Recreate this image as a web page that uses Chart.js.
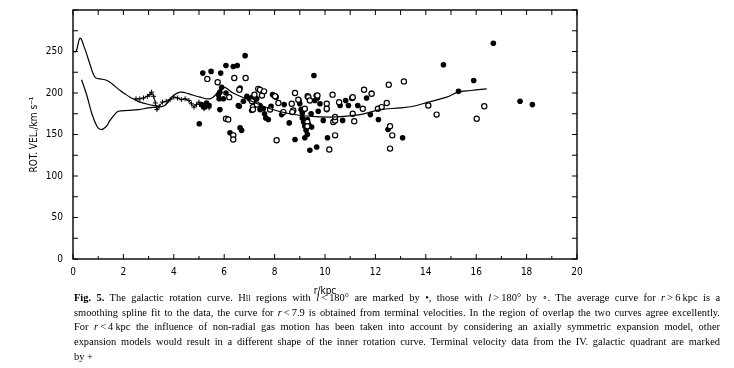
<!DOCTYPE html>
<html>
<head>
<meta charset="utf-8">
<script src="https://cdn.jsdelivr.net/npm/chart.js@4"></script>
<style>
body { margin: 0; background: #fff; }
#wrap { position: relative; width: 734px; height: 368px; }
#myChart { position: absolute; left: 0; top: 0; }
#cap { position: absolute; left: 74px; top: 290px; width: 706px; font: 11.4px "Liberation Serif", "DejaVu Serif", serif;
  line-height: 14.7px; color: #000; transform: scaleX(0.915); transform-origin: 0 0; }
#cap div { text-align: justify; text-align-last: justify; white-space: nowrap; }
#cap div.last { text-align-last: left; }
.sc { font-variant: small-caps; }
</style>
</head>
<body>
<div id="wrap">
<canvas id="myChart" width="734" height="300"></canvas>
<div id="cap">
<div><b>Fig. 5.</b> The galactic rotation curve. H<span class="sc">ii</span> regions with <i>l</i>&thinsp;&lt;&thinsp;180° are marked by •, those with <i>l</i>&thinsp;&gt;&thinsp;180° by ∘. The average curve for <i>r</i>&thinsp;&gt;&thinsp;6&thinsp;kpc is a</div>
<div>smoothing spline fit to the data, the curve for <i>r</i>&thinsp;&lt;&thinsp;7.9 is obtained from terminal velocities. In the region of overlap the two curves agree excellently.</div>
<div>For <i>r</i>&thinsp;&lt;&thinsp;4&thinsp;kpc the influence of non-radial gas motion has been taken into account by considering an axially symmetric expansion model, other</div>
<div>expansion models would result in a different shape of the inner rotation curve. Terminal velocity data from the IV. galactic quadrant are marked</div>
<div class="last">by +</div>
</div>
</div>
<script>
// H II regions with l < 180 (filled)
const filledR = [5.01, 5.15, 5.1, 5.2, 5.3, 5.4, 5.48, 5.77, 5.8, 5.83, 5.86, 5.83, 5.9, 5.97, 6.07, 6.07, 6.23, 6.36, 6.36, 6.52,
  6.56, 6.6, 6.63, 6.63, 6.69, 6.76, 6.83, 6.9, 7.0, 7.09, 7.12, 7.2, 7.29, 7.42, 7.42, 7.55, 7.6, 7.65, 7.75, 7.86,
  7.92, 7.99, 8.06, 8.28, 8.38, 8.58, 8.81, 8.97, 9.0, 9.05, 9.1, 9.1, 9.15, 9.2, 9.25, 9.3, 9.2, 9.3, 9.35, 9.4,
  9.45, 9.47, 9.56, 9.6, 9.65, 9.7, 9.67, 9.73, 9.8, 9.93, 10.07, 10.1, 10.6, 10.7, 10.82, 10.93, 11.3, 11.65, 11.8, 11.85,
  12.12, 12.5, 13.08, 14.7, 15.3, 15.9, 16.68, 17.74, 18.23];
const filledV = [163, 224, 186, 183, 188, 185, 226, 198, 193, 201, 224, 180, 207, 193, 233, 200, 152, 149, 232, 233,
  185, 184, 206, 158, 155, 190, 245, 196, 193, 179, 195, 192, 193, 180, 185, 181, 175, 170, 168, 184,
  198, 197, 195, 174, 186, 164, 144, 191, 187, 180, 176, 170, 165, 160, 155, 150, 146, 168, 162, 131,
  175, 159, 221, 191, 197, 194, 135, 178, 187, 167, 180, 146, 185, 167, 191, 185, 185, 194, 174, 200,
  168, 156, 146, 234, 202, 215, 260, 190, 186];

// H II regions with l > 180 (open)
const openR = [5.33, 5.74, 6.07, 6.16, 6.2, 6.36, 6.36, 6.4, 6.6, 6.85, 7.1, 7.14, 7.14, 7.2, 7.3, 7.35, 7.42, 7.5, 7.58, 7.82,
  8.02, 8.08, 8.15, 8.35, 8.68, 8.74, 8.7, 8.81, 8.94, 9.2, 9.31, 9.34, 9.4, 9.3, 9.3, 9.7, 10.07, 10.07, 10.17, 10.3,
  10.33, 10.4, 10.4, 10.4, 10.56, 11.08, 11.1, 11.1, 11.16, 11.5, 11.55, 11.85, 12.1, 12.25, 12.45, 12.53, 12.58, 12.67, 12.58, 13.13,
  14.1, 14.43, 16.02, 16.32];
const openV = [217, 213, 169, 168, 195, 149, 144, 218, 204, 218, 190, 183, 180, 198, 186, 205, 204, 197, 202, 180,
  196, 143, 188, 177, 187, 179, 177, 200, 192, 181, 196, 195, 191, 165, 160, 197, 187, 181, 132, 198,
  165, 167, 171, 149, 189, 194, 195, 175, 166, 181, 204, 199, 181, 183, 188, 210, 160, 149, 133, 214,
  185, 174, 169, 184];

// terminal velocities + spline fit
const curveR = [0, 0.12, 0.28, 0.45, 0.67, 0.87, 1.07, 1.27, 1.47, 1.67, 1.87, 2.06, 2.26, 2.46, 2.66, 2.9, 3.17, 3.4, 3.57, 3.75,
  3.95, 4.25, 4.6, 5.04, 5.44, 5.7, 5.97, 6.35, 7.02, 7.82, 8.6, 9.4, 10.3, 11.4, 12.18, 13.0, 13.5, 14.1, 14.83, 15.28,
  15.8, 16.42];
const curveV = [250, 250, 266, 255, 235, 219, 217, 216, 213, 208, 203, 199, 195, 192, 189, 187, 185, 184, 184, 188,
  196, 201, 199, 195, 193, 199, 207, 200, 191, 181, 175, 172, 171, 174, 180, 182, 184, 189, 195, 201,
  203, 205];

// inner curve, expansion model
const innerR = [0.34, 0.55, 0.75, 0.95, 1.1, 1.3, 1.47, 1.65, 1.8, 2.2, 2.6, 3.0, 3.32, 3.57];
const innerV = [216, 197, 175, 160, 156, 159, 167, 174, 178, 179, 180, 182, 183, 184];

// IV. quadrant terminal velocities
const tvR = [2.5, 2.65, 2.8, 2.95, 3.05, 3.12, 3.2, 3.27, 3.33, 3.42, 3.55, 3.7, 3.85, 4.0, 4.15, 4.3, 4.45, 4.6, 4.7, 4.8,
  4.9, 5.0, 5.1, 5.2, 5.3, 5.4];
const tvV = [193, 193, 194, 196, 198, 201, 196, 188, 180, 184, 189, 190, 192, 195, 194, 192, 193, 191, 187, 183,
  186, 189, 184, 181, 183, 182];

const pts = (xs, ys) => xs.map((r, i) => ({ x: r, y: ys[i] }));
const tickFont = { family: '"Liberation Sans Narrow", "DejaVu Sans Condensed", sans-serif', size: 10 };

// frame with inward ticks on all four sides
const frameTicks = {
  id: 'frameTicks',
  afterDatasetsDraw(chart) {
    const { ctx, chartArea: a, scales: { x, y } } = chart;
    ctx.save();
    ctx.strokeStyle = '#000';
    ctx.lineWidth = 1.4;
    ctx.strokeRect(a.left, a.top, a.right - a.left, a.bottom - a.top);
    ctx.lineWidth = 1;
    ctx.beginPath();
    for (let r = 0; r <= 20; r++) {
      const px = x.getPixelForValue(r);
      const len = r % 2 === 0 ? 5 : 3;
      ctx.moveTo(px, a.bottom); ctx.lineTo(px, a.bottom - len);
      ctx.moveTo(px, a.top); ctx.lineTo(px, a.top + 5);
    }
    for (let v = 0; v <= 300; v += 25) {
      const py = y.getPixelForValue(v);
      ctx.moveTo(a.left, py); ctx.lineTo(a.left + 5, py);
      ctx.moveTo(a.right, py); ctx.lineTo(a.right - 5, py);
    }
    ctx.stroke();
    ctx.restore();
  }
};

const ctx = document.getElementById('myChart');
new Chart(ctx, {
  type: 'scatter',
  data: {
    datasets: [
      { data: pts(curveR, curveV), showLine: true, borderColor: '#000', borderWidth: 1.2, pointRadius: 0, tension: 0.4 },
      { data: pts(innerR, innerV), showLine: true, borderColor: '#000', borderWidth: 1.2, pointRadius: 0, tension: 0.4 },
      { data: pts(tvR, tvV), showLine: true, borderColor: '#000', borderWidth: 1, pointStyle: 'cross', pointRadius: 2.5,
        pointBorderWidth: 1, tension: 0 },
      { data: pts(openR, openV), pointRadius: 2.6, backgroundColor: '#fff', borderColor: '#000', borderWidth: 1.2 },
      { data: pts(filledR, filledV), pointRadius: 2.8, backgroundColor: '#000', borderColor: '#000', borderWidth: 0 }
    ]
  },
  options: {
    responsive: false,
    animation: false,
    layout: { padding: { top: 10, right: 157, left: 0, bottom: 0 } },
    plugins: { legend: { display: false }, tooltip: { enabled: false } },
    scales: {
      x: {
        type: 'linear', min: 0, max: 20,
        grid: { display: false, drawTicks: false },
        border: { display: false },
        ticks: { stepSize: 2, padding: 7, color: '#000', font: tickFont, maxRotation: 0 },
        title: { display: true, text: 'r/kpc', color: '#000', font: tickFont, padding: { top: 0, bottom: 3 } },
        afterFit(s) { s.height = 41; }
      },
      y: {
        type: 'linear', min: 0, max: 300,
        grid: { display: false, drawTicks: false },
        border: { display: false },
        ticks: { stepSize: 50, padding: 10, color: '#000', font: tickFont, callback: v => v === 300 ? null : v },
        title: { display: true, text: 'ROT. VEL./km s⁻¹', color: '#000', font: tickFont, padding: { top: 28, bottom: 0 } },
        afterFit(s) { s.width = 73; s.paddingTop = 0; }
      }
    }
  },
  plugins: [frameTicks]
});
</script>
</body>
</html>
